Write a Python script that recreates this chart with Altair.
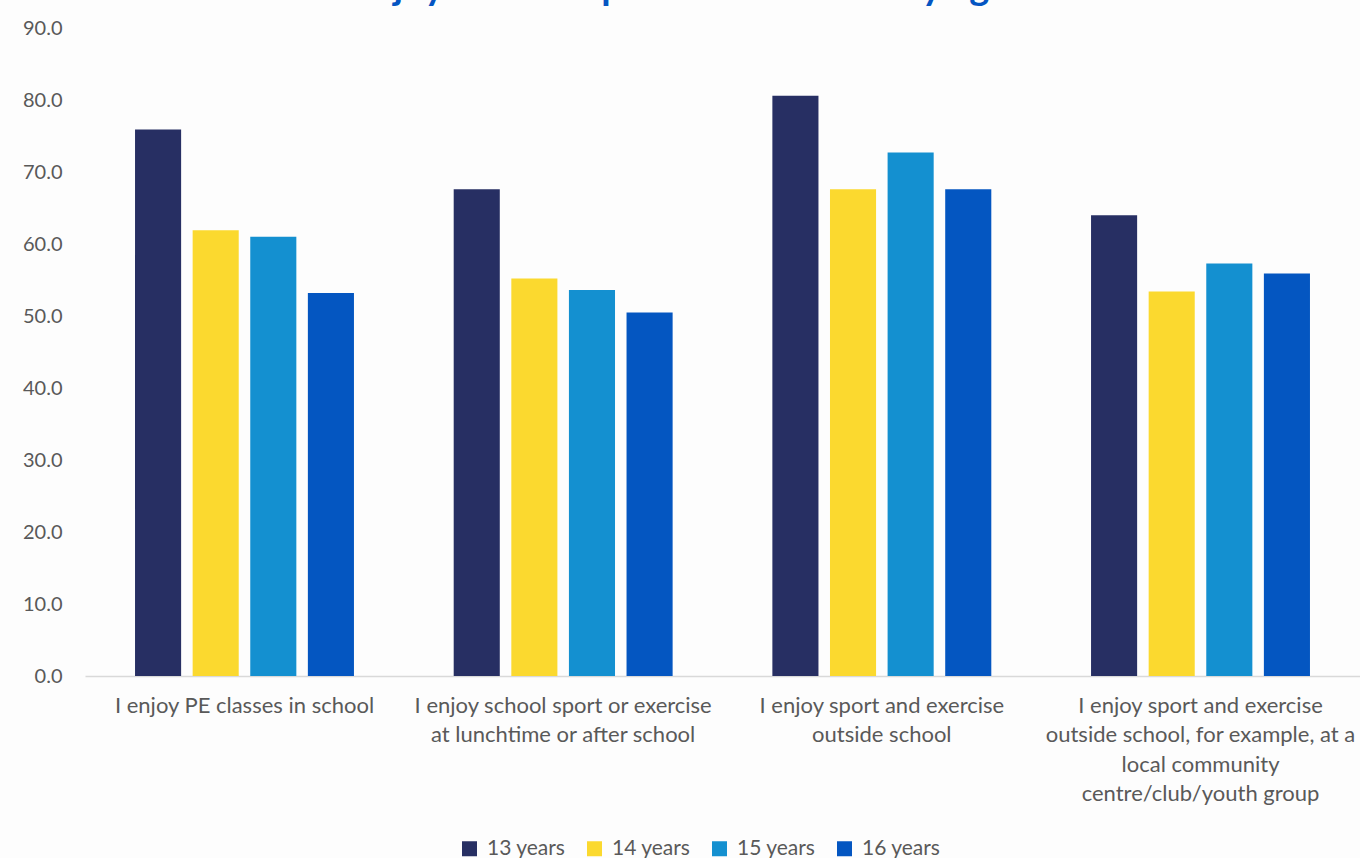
import altair as alt
import pandas as pd

categories = [
    "I enjoy PE classes in school",
    "I enjoy school sport or exercise|at lunchtime or after school",
    "I enjoy sport and exercise|outside school",
    "I enjoy sport and exercise|outside school, for example, at a|local community|centre/club/youth group",
]
ages = ["13 years", "14 years", "15 years", "16 years"]
values_13 = [75.9, 67.6, 80.6, 64.0]
values_14 = [61.9, 55.2, 67.6, 53.4]
values_15 = [61.0, 53.6, 72.7, 57.3]
values_16 = [53.2, 50.5, 67.6, 55.9]
colors = ["#272F63", "#FBD92F", "#1490D0", "#0456C1"]
title_text = "Enjoyment of sport and exercise by age"

rows = []
for series, vals in zip(ages, [values_13, values_14, values_15, values_16]):
    for c, v in zip(categories, vals):
        rows.append({"category": c, "age": series, "value": v})
df = pd.DataFrame(rows)

FONT = "Lato"
GREY = "#595959"

bars = alt.Chart(df).mark_bar().encode(
    x=alt.X(
        "category:N",
        sort=categories,
        scale=alt.Scale(paddingInner=0.313, paddingOuter=0.157),
        axis=alt.Axis(
            title=None,
            labelAngle=0,
            labelExpr="split(datum.label, '|')",
            labelFont=FONT,
            labelFontSize=22,
            labelColor=GREY,
            labelPadding=19,
            labelLineHeight=29.5,
            labelBaseline="top",
            ticks=False,
            domainColor="#D9D9D9",
            domainWidth=1.5,
            labelLimit=400,
        ),
    ),
    xOffset=alt.XOffset(
        "age:N", sort=ages, scale=alt.Scale(paddingInner=0.2, paddingOuter=0)
    ),
    y=alt.Y(
        "value:Q",
        scale=alt.Scale(domain=[0, 90], nice=False),
        axis=alt.Axis(
            title=None,
            values=list(range(0, 91, 10)),
            format=".1f",
            labelFont=FONT,
            labelFontSize=20,
            labelColor=GREY,
            labelPadding=23,
            ticks=False,
            domain=False,
            grid=False,
        ),
    ),
    color=alt.Color(
        "age:N",
        sort=ages,
        scale=alt.Scale(domain=ages, range=colors),
        legend=alt.Legend(
            title=None,
            orient="none",
            legendX=374,
            legendY=810,
            direction="horizontal",
            columns=4,
            symbolType="square",
            symbolSize=225,
            symbolStrokeWidth=0,
            labelFont=FONT,
            labelFontSize=21,
            labelColor=GREY,
            labelOffset=7,
            columnPadding=18,
        ),
    ),
)

title = alt.Chart(pd.DataFrame({"t": [title_text]})).mark_text(
    font=FONT,
    fontSize=38,
    fontWeight="bold",
    color="#0455C2",
    baseline="alphabetic",
    align="center",
).encode(
    text="t:N",
    x=alt.value(595),
    y=alt.value(-28),
)

chart = (
    alt.layer(bars, title)
    .properties(
        width=1275,
        height=648,
        autosize=alt.AutoSizeParams(type="none"),
        padding={"left": 85, "top": 28, "right": 0, "bottom": 182},
        background="#FDFDFD",
    )
    .configure_view(stroke=None)
)

chart.save("out.html", embed_options={"renderer": "svg", "actions": False})
